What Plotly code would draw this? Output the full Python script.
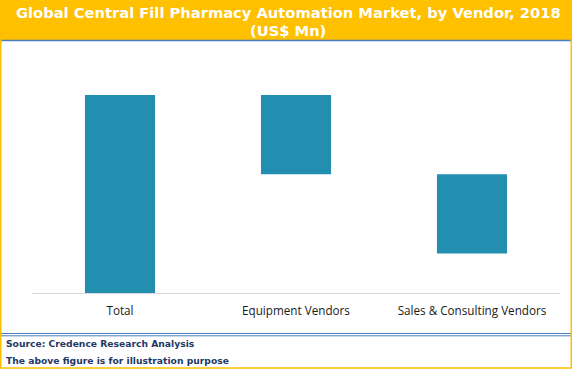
import plotly.graph_objects as go

categories = ["Total", "Equipment Vendors", "Sales & Consulting Vendors"]
bar_start = [0, 60, 20]
bar_end = [100, 100, 60]

W, H = 572, 369
def px(x):
    return x / W
def py(y):
    return 1 - y / H

fig = go.Figure()
fig.add_trace(go.Bar(
    x=categories,
    y=[e - s for s, e in zip(bar_start, bar_end)],
    base=bar_start,
    marker=dict(color="#238FB0", line=dict(width=0)),
    hoverinfo="skip",
))

shapes = [
    # title banner
    dict(type="rect", xref="paper", yref="paper", x0=0, x1=1, y0=py(40), y1=1,
         fillcolor="#FFC000", line=dict(width=0), layer="below"),
    # blue line under banner
    dict(type="line", xref="paper", yref="paper", x0=px(1), x1=px(571), y0=py(40.5), y1=py(40.5),
         line=dict(color="#4A7EBB", width=1.5)),
    # footer double line
    dict(type="line", xref="paper", yref="paper", x0=px(1), x1=px(571), y0=py(333.5), y1=py(333.5),
         line=dict(color="#4A7EBB", width=1)),
    dict(type="line", xref="paper", yref="paper", x0=px(1), x1=px(571), y0=py(335.8), y1=py(335.8),
         line=dict(color="#4A7EBB", width=1)),
    # outer orange border
    dict(type="rect", xref="paper", yref="paper", x0=px(0.75), x1=px(571.25), y0=py(368.0), y1=py(0.75),
         fillcolor="rgba(0,0,0,0)", line=dict(color="#FFC000", width=1.5)),
]

annotations = [
    dict(text="<b>Global Central Fill Pharmacy Automation Market, by Vendor, 2018</b>",
         x=px(288), y=py(13), xref="paper", yref="paper", showarrow=False,
         font=dict(family="DejaVu Sans", size=14.7, color="white"), xanchor="center", yanchor="middle"),
    dict(text="<b>(US$ Mn)</b>",
         x=px(288), y=py(30), xref="paper", yref="paper", showarrow=False,
         font=dict(family="DejaVu Sans", size=14.7, color="white"), xanchor="center", yanchor="middle"),
    dict(text="<b>Source: Credence Research Analysis</b>",
         x=px(4), y=py(343.7), xref="paper", yref="paper", showarrow=False,
         font=dict(family="DejaVu Sans", size=9.2, color="#1F3864"), xanchor="left", yanchor="middle"),
    dict(text="<b>The above figure is for illustration purpose</b>",
         x=px(4), y=py(360.7), xref="paper", yref="paper", showarrow=False,
         font=dict(family="DejaVu Sans", size=9.2, color="#1F3864"), xanchor="left", yanchor="middle"),
]

fig.update_layout(
    width=W, height=H,
    margin=dict(l=0, r=0, t=0, b=0),
    paper_bgcolor="white", plot_bgcolor="white",
    showlegend=False,
    bargap=0.602,
    shapes=shapes,
    annotations=annotations,
    xaxis=dict(domain=[px(32), px(560)], showline=True, linecolor="#D9D9D9", linewidth=1.2,
               showgrid=False, zeroline=False, ticks="",
               tickfont=dict(family="Open Sans", size=11.7, color="#1a1a1a"),
               ticklabelstandoff=7),
    yaxis=dict(domain=[py(293), py(95)], range=[0, 100], visible=False,
               showgrid=False, zeroline=False),
)

fig.write_html("out.html", config={"displayModeBar": False},
               post_script="document.body.style.margin='0';document.body.style.overflow='hidden';")
